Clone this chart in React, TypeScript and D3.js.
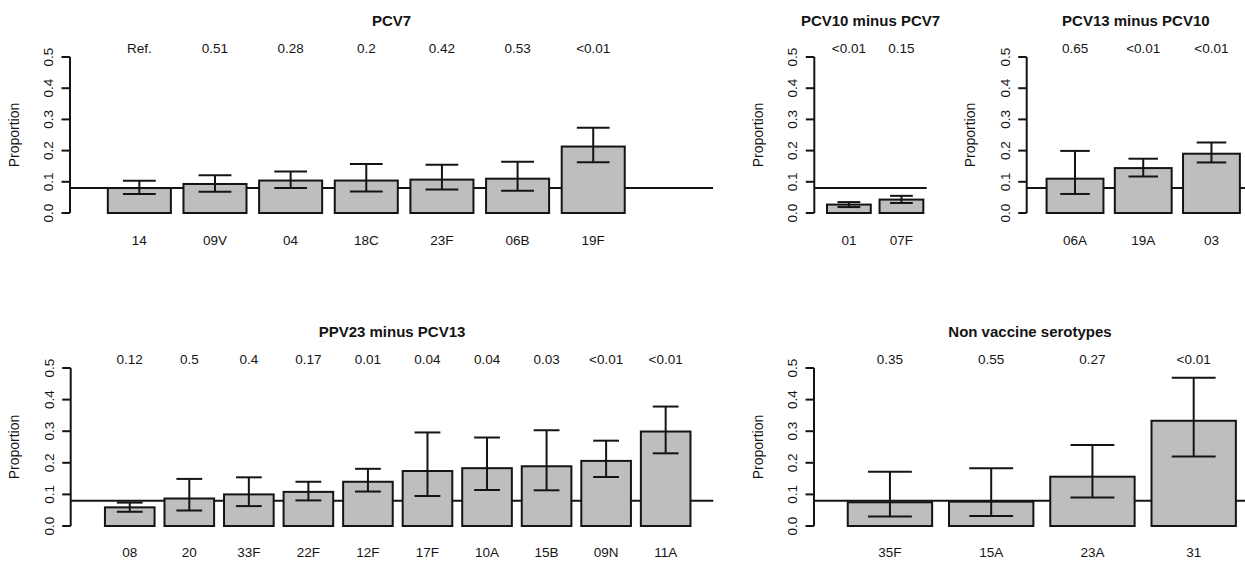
import React from "react";
import * as d3 from "d3";

// ---------- data ----------
const referenceProportion = 0.08;
const yTicks = [0, 0.1, 0.2, 0.3, 0.4, 0.5];

const pcv7Serotypes = ["14", "09V", "04", "18C", "23F", "06B", "19F"];
const pcv7Prop = [0.08, 0.093, 0.104, 0.104, 0.107, 0.11, 0.213];
const pcv7Lower = [0.061, 0.068, 0.08, 0.069, 0.075, 0.071, 0.163];
const pcv7Upper = [0.103, 0.121, 0.133, 0.157, 0.155, 0.164, 0.273];
const pcv7P = ["Ref.", "0.51", "0.28", "0.2", "0.42", "0.53", "<0.01"];

const pcv10Serotypes = ["01", "07F"];
const pcv10Prop = [0.027, 0.043];
const pcv10Lower = [0.019, 0.032];
const pcv10Upper = [0.035, 0.055];
const pcv10P = ["<0.01", "0.15"];

const pcv13Serotypes = ["06A", "19A", "03"];
const pcv13Prop = [0.11, 0.144, 0.19];
const pcv13Lower = [0.061, 0.117, 0.162];
const pcv13Upper = [0.199, 0.174, 0.226];
const pcv13P = ["0.65", "<0.01", "<0.01"];

const ppv23Serotypes = ["08", "20", "33F", "22F", "12F", "17F", "10A", "15B", "09N", "11A"];
const ppv23Prop = [0.059, 0.087, 0.1, 0.108, 0.14, 0.174, 0.183, 0.189, 0.206, 0.299];
const ppv23Lower = [0.045, 0.049, 0.063, 0.081, 0.109, 0.095, 0.114, 0.113, 0.155, 0.23];
const ppv23Upper = [0.074, 0.149, 0.154, 0.14, 0.181, 0.296, 0.28, 0.303, 0.27, 0.378];
const ppv23P = ["0.12", "0.5", "0.4", "0.17", "0.01", "0.04", "0.04", "0.03", "<0.01", "<0.01"];

const nvtSerotypes = ["35F", "15A", "23A", "31"];
const nvtProp = [0.075, 0.077, 0.156, 0.333];
const nvtLower = [0.03, 0.032, 0.09, 0.22];
const nvtUpper = [0.172, 0.183, 0.256, 0.469];
const nvtP = ["0.35", "0.55", "0.27", "<0.01"];

// ---------- styles ----------
const FONT = "'Liberation Sans', Arial, Helvetica, sans-serif";
const INK = "#141414";
const BAR_FILL = "#bebebe";
const LW = 2;

type PanelProps = {
  title: string;
  serotypes: string[];
  prop: number[];
  lower: number[];
  upper: number[];
  pvals: string[];
  left: number;
  right: number;
  xDomain: [number, number];
  yBottom: number;
  yTop: number;
  titleY: number;
  pY: number;
  labelY: number;
};

function Panel(p: PanelProps) {
  const x = d3.scaleLinear().domain(p.xDomain).range([p.left, p.right]);
  const y = d3.scaleLinear().domain([0, 0.5]).range([p.yBottom, p.yTop]);
  const unit = x(1) - x(0);
  const capHalf = 0.26 * unit;
  const barLeft = (i: number) => x(0.2 + 1.2 * i);
  const barRight = (i: number) => x(1.2 + 1.2 * i);
  const barMid = (i: number) => x(0.7 + 1.2 * i);
  const axisX = p.left;
  return (
    <g>
      <text
        x={(p.left + p.right) / 2}
        y={p.titleY}
        textAnchor="middle"
        fontFamily={FONT}
        fontWeight="bold"
        fontSize={15}
        fill={INK}
      >
        {p.title}
      </text>
      {/* y axis */}
      <line x1={axisX} x2={axisX} y1={y(0)} y2={y(0.5)} stroke={INK} strokeWidth={LW} />
      {yTicks.map((t) => (
        <g key={t}>
          <line x1={axisX - 8.5} x2={axisX} y1={y(t)} y2={y(t)} stroke={INK} strokeWidth={LW} />
          <text
            transform={`translate(${axisX - 17},${y(t)}) rotate(-90)`}
            textAnchor="middle"
            fontFamily={FONT}
            fontSize={13.5}
            fill={INK}
          >
            {d3.format(".1f")(t)}
          </text>
        </g>
      ))}
      <text
        transform={`translate(${axisX - 51.5},${y(0.25)}) rotate(-90)`}
        textAnchor="middle"
        fontFamily={FONT}
        fontSize={14}
        fill={INK}
      >
        Proportion
      </text>
      {/* reference line */}
      <line
        x1={p.left}
        x2={p.right}
        y1={y(referenceProportion)}
        y2={y(referenceProportion)}
        stroke={INK}
        strokeWidth={LW}
      />
      {/* bars */}
      {p.prop.map((v, i) => (
        <rect
          key={"b" + i}
          x={barLeft(i)}
          y={y(v)}
          width={barRight(i) - barLeft(i)}
          height={y(0) - y(v)}
          fill={BAR_FILL}
          stroke={INK}
          strokeWidth={LW}
        />
      ))}
      {/* error bars */}
      {p.prop.map((_, i) => (
        <g key={"e" + i} stroke={INK} strokeWidth={LW}>
          <line x1={barMid(i)} x2={barMid(i)} y1={y(p.lower[i])} y2={y(p.upper[i])} />
          <line x1={barMid(i) - capHalf} x2={barMid(i) + capHalf} y1={y(p.lower[i])} y2={y(p.lower[i])} />
          <line x1={barMid(i) - capHalf} x2={barMid(i) + capHalf} y1={y(p.upper[i])} y2={y(p.upper[i])} />
        </g>
      ))}
      {/* p-values */}
      {p.pvals.map((s, i) => (
        <text
          key={"p" + i}
          x={barMid(i)}
          y={p.pY}
          textAnchor="middle"
          fontFamily={FONT}
          fontSize={13.5}
          fill={INK}
        >
          {s}
        </text>
      ))}
      {/* category labels */}
      {p.serotypes.map((s, i) => (
        <text
          key={"l" + i}
          x={barMid(i)}
          y={p.labelY}
          textAnchor="middle"
          fontFamily={FONT}
          fontSize={13.5}
          fill={INK}
        >
          {s}
        </text>
      ))}
    </g>
  );
}

export default function App() {
  const top = { yBottom: 213, yTop: 57, titleY: 25.5, pY: 53.3, labelY: 245 };
  const bottom = { yBottom: 526, yTop: 368, titleY: 337, pY: 364.3, labelY: 556.7 };
  return (
    <svg
      width={1245}
      height={566}
      style={{ position: "absolute", left: 0, top: 0, background: "#fff" }}
    >
      <rect x={0} y={0} width={1245} height={566} fill="#fff" />
      <Panel
        title="PCV7"
        serotypes={pcv7Serotypes}
        prop={pcv7Prop}
        lower={pcv7Lower}
        upper={pcv7Upper}
        pvals={pcv7P}
        left={70}
        right={713}
        xDomain={[-0.4, 9.8]}
        {...top}
      />
      <Panel
        title="PCV10 minus PCV7"
        serotypes={pcv10Serotypes}
        prop={pcv10Prop}
        lower={pcv10Lower}
        upper={pcv10Upper}
        pvals={pcv10P}
        left={814.3}
        right={926.7}
        xDomain={[-0.09, 2.477]}
        {...top}
      />
      <Panel
        title="PCV13 minus PCV10"
        serotypes={pcv13Serotypes}
        prop={pcv13Prop}
        lower={pcv13Lower}
        upper={pcv13Upper}
        pvals={pcv13P}
        left={1026.7}
        right={1245}
        xDomain={[-0.15, 3.69]}
        {...top}
      />
      <Panel
        title="PPV23 minus PCV13"
        serotypes={ppv23Serotypes}
        prop={ppv23Prop}
        lower={ppv23Lower}
        upper={ppv23Upper}
        pvals={ppv23P}
        left={70.7}
        right={713.3}
        xDomain={[-0.49, 12.46]}
        {...bottom}
      />
      <Panel
        title="Non vaccine serotypes"
        serotypes={nvtSerotypes}
        prop={nvtProp}
        lower={nvtLower}
        upper={nvtUpper}
        pvals={nvtP}
        left={814}
        right={1246}
        xDomain={[-0.2, 4.92]}
        {...bottom}
      />
    </svg>
  );
}
